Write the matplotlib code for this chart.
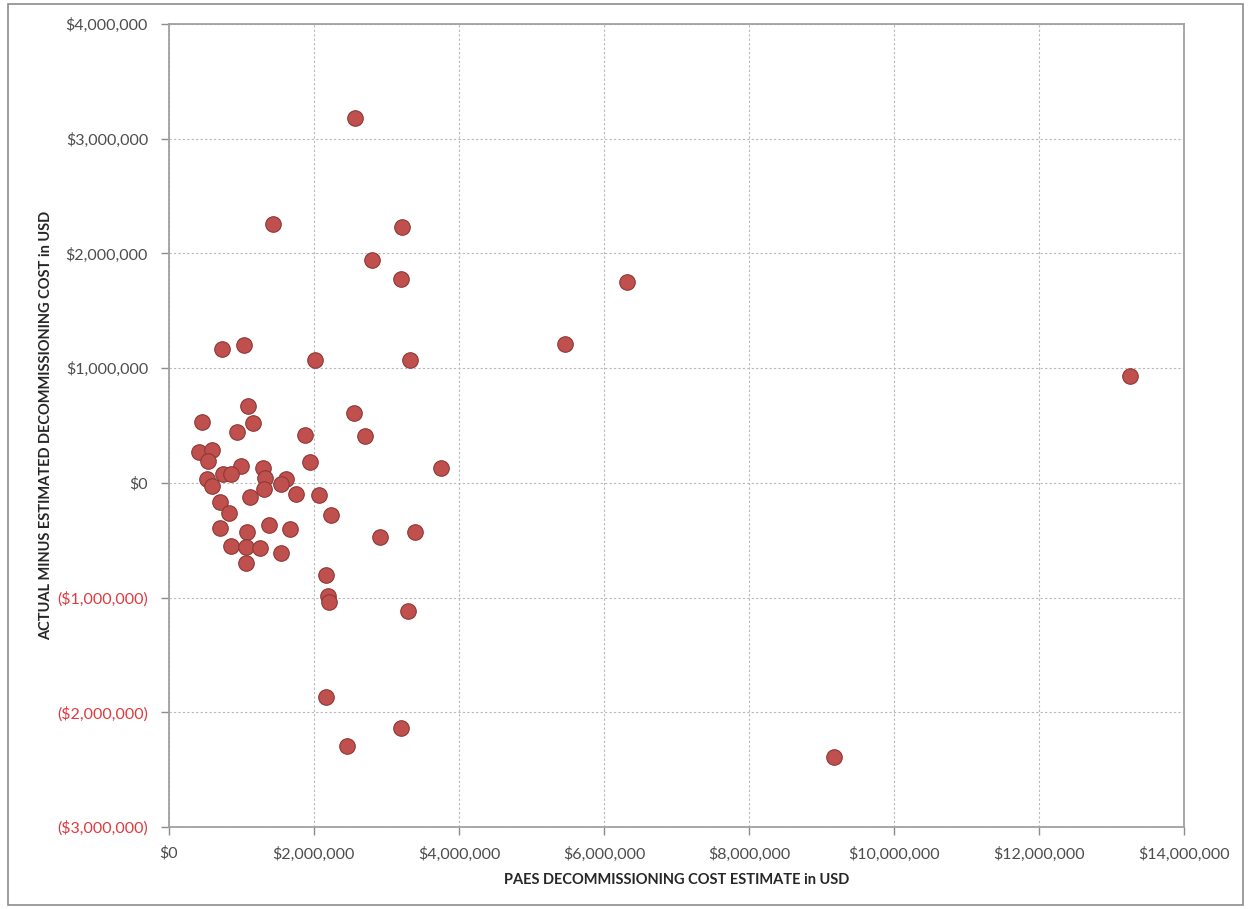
import matplotlib.pyplot as plt
from matplotlib.ticker import FuncFormatter
from matplotlib.patches import Rectangle

# PAES estimate (x) and actual minus estimate (y), in millions of USD
paes_est = [2.57, 1.43, 3.21, 2.80, 3.20, 6.32, 5.46, 1.03, 0.73, 2.01,
            3.32, 13.26, 1.09, 2.55, 0.46, 1.16, 1.88, 2.70, 0.94, 3.75,
            1.94, 0.42, 0.59, 0.54, 0.99, 1.30, 0.75, 0.86, 1.32, 0.52,
            0.59, 1.62, 1.55, 1.31, 1.12, 1.75, 2.07, 0.71, 0.83, 2.23,
            3.39, 2.91, 0.70, 1.38, 1.67, 1.08, 0.86, 1.06, 1.26, 1.54,
            1.06, 2.17, 2.19, 2.21, 3.30, 2.17, 2.46, 3.20, 9.17]
diff = [3.18, 2.26, 2.23, 1.94, 1.78, 1.75, 1.21, 1.20, 1.17, 1.07,
        1.07, 0.93, 0.67, 0.61, 0.53, 0.52, 0.42, 0.41, 0.44, 0.13,
        0.18, 0.27, 0.29, 0.19, 0.15, 0.13, 0.08, 0.08, 0.04, 0.03,
        -0.03, 0.03, -0.01, -0.05, -0.12, -0.10, -0.11, -0.17, -0.26, -0.28,
        -0.43, -0.47, -0.39, -0.37, -0.40, -0.43, -0.55, -0.56, -0.57, -0.61,
        -0.70, -0.80, -0.99, -1.04, -1.12, -1.87, -2.29, -2.14, -2.39]

x = [v * 1e6 for v in paes_est]
y = [v * 1e6 for v in diff]

plt.rcParams['font.family'] = ['Lato', 'DejaVu Sans']

fig = plt.figure(figsize=(12.51, 9.09), dpi=100)
fig.patches.append(Rectangle((0.006, 0.004), 0.988, 0.992, transform=fig.transFigure,
                             fill=False, edgecolor='#8c8c8c', linewidth=1.2))
ax = fig.add_axes([0.135, 0.0902, 0.8115, 0.8834])

ax.scatter(x, y, s=125, color='#c0504d', edgecolors='#8c3836', linewidths=0.8, zorder=3)

ax.set_xlim(0, 14e6)
ax.set_ylim(-3e6, 4e6)
ax.set_xticks(range(0, 14000001, 2000000))
ax.set_yticks(range(-3000000, 4000001, 1000000))


def money(v, pos):
    if v < 0:
        return '(${:,.0f})'.format(-v)
    return '${:,.0f}'.format(v)


ax.xaxis.set_major_formatter(FuncFormatter(money))
ax.yaxis.set_major_formatter(FuncFormatter(money))
ax.tick_params(axis='both', labelsize=11.5, colors='#8c8c8c', labelcolor='#4d4d4d',
               length=6, width=1)
ax.tick_params(axis='y', pad=9)
ax.tick_params(axis='x', pad=8)
for lbl, val in zip(ax.get_yticklabels(), ax.get_yticks()):
    if val < 0:
        lbl.set_color('#e0393e')

ax.grid(True, color='#b8b8b8', linestyle=(0, (2, 2)), linewidth=0.8)
ax.set_axisbelow(True)
for s in ax.spines.values():
    s.set_color('#a0a0a0')
    s.set_linewidth(1.3)

ax.set_xlabel('PAES DECOMMISSIONING COST ESTIMATE in USD', fontsize=10.5,
              fontweight='bold', color='#262626', labelpad=8)
ax.set_ylabel('ACTUAL MINUS ESTIMATED DECOMMISSIONING COST in USD', fontsize=10.5,
              fontweight='bold', color='#262626', labelpad=3)

fig.savefig('out.png', dpi=100)
